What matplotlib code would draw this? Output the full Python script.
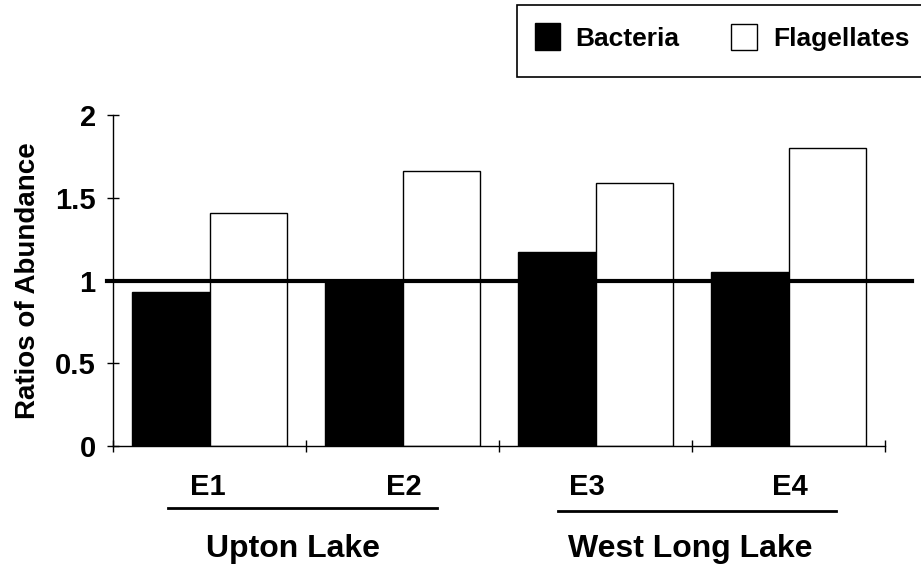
"""Ratios of abundance of bacteria and flagellates in four enclosure experiments."""

import matplotlib
matplotlib.use("Agg")
import matplotlib.pyplot as plt
from matplotlib.patches import Rectangle
import numpy as np

# ── Data ────────────────────────────────────────────────────────────────
experiments = ["E1", "E2", "E3", "E4"]
bacteria = [0.93, 1.00, 1.17, 1.05]
flagellates = [1.41, 1.66, 1.59, 1.80]
lakes = ["Upton Lake", "West Long Lake"]
y_ticks = [0, 0.5, 1, 1.5, 2]
y_tick_labels = ["0", "0.5", "1", "1.5", "2"]
reference_ratio = 1.0

# ── Style ───────────────────────────────────────────────────────────────
plt.rcParams["font.family"] = ["Liberation Sans", "DejaVu Sans"]
plt.rcParams["font.weight"] = "bold"
_W, _H = 921, 566
_BAR_W = 0.4

fig = plt.figure(figsize=(_W / 100, _H / 100), dpi=100)
ax = fig.add_axes([113 / _W, 1 - 446 / _H, (885 - 113) / _W, (446 - 115) / _H])

x = np.arange(len(experiments)) + 0.5
ax.bar(x - _BAR_W / 2, bacteria, width=_BAR_W, color="black",
       edgecolor="black", linewidth=1)
ax.bar(x + _BAR_W / 2, flagellates, width=_BAR_W, color="white",
       edgecolor="black", linewidth=1)

# reference line at ratio = 1, runs a little past both axis ends
ax.plot([-0.03, 4.14], [reference_ratio, reference_ratio], color="black",
        linewidth=3, clip_on=False, zorder=5)

ax.set_xlim(0, 4)
ax.set_ylim(0, 2)
ax.set_xticks(np.arange(len(experiments) + 1))
ax.set_xticklabels([])
ax.set_yticks(y_ticks)
ax.set_yticklabels(y_tick_labels, fontsize=21, fontweight="bold")
ax.tick_params(axis="both", direction="inout", length=9, width=1, color="black")
ax.tick_params(axis="y", pad=8)
for side in ("top", "right"):
    ax.spines[side].set_visible(False)
for side in ("left", "bottom"):
    ax.spines[side].set_linewidth(1)

ax.set_ylabel("Ratios of Abundance", fontsize=20, fontweight="bold", labelpad=10)

# experiment labels and lake groupings under the axis
exp_x = [208, 404, 587, 790]
for name, px in zip(experiments, exp_x):
    fig.text(px / _W, 1 - 487 / _H, name, ha="center", va="center",
             fontsize=21, fontweight="bold")

group_lines = [(168, 437, 508), (558, 836, 511)]
for x0, x1, py in group_lines:
    fig.add_artist(plt.Line2D([x0 / _W, x1 / _W], [1 - py / _H, 1 - py / _H],
                              color="black", linewidth=2))

lake_x = [293, 690]
for name, px in zip(lakes, lake_x):
    fig.text(px / _W, 1 - 557 / _H, name, ha="center", va="baseline",
             fontsize=23, fontweight="bold")

# ── Legend box (runs off the right edge) ────────────────────────────────
fig.add_artist(Rectangle((517 / _W, 1 - 77 / _H), 420 / _W, 72 / _H,
                         transform=fig.transFigure, facecolor="white",
                         edgecolor="black", linewidth=1.2))
fig.add_artist(Rectangle((535 / _W, 1 - 50 / _H), 25 / _W, 27 / _H,
                         transform=fig.transFigure, facecolor="black",
                         edgecolor="black", linewidth=1))
fig.text(575 / _W, 1 - 39 / _H, "Bacteria", ha="left", va="center",
         fontsize=19, fontweight="bold")
fig.add_artist(Rectangle((731 / _W, 1 - 50 / _H), 26 / _W, 26 / _H,
                         transform=fig.transFigure, facecolor="white",
                         edgecolor="black", linewidth=1))
fig.text(773 / _W, 1 - 39 / _H, "Flagellates", ha="left", va="center",
         fontsize=19, fontweight="bold")

fig.savefig("out.png", dpi=100)
plt.close(fig)
